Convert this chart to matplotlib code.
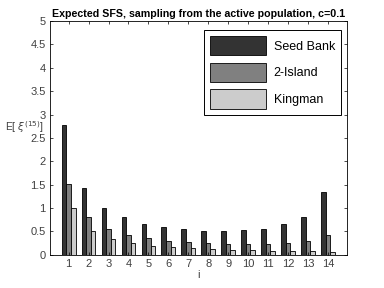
import numpy as np
import matplotlib
matplotlib.use('Agg')
import matplotlib.pyplot as plt

plt.rcParams['font.family'] = ['Liberation Sans', 'DejaVu Sans']

# Data
i_vals = np.arange(1, 15)
seed_bank = [2.78, 1.44, 1.01, 0.80, 0.67, 0.60, 0.56, 0.52, 0.52, 0.54, 0.56, 0.65, 0.82, 1.34]
two_island = [1.51, 0.80, 0.55, 0.43, 0.37, 0.30, 0.28, 0.26, 0.24, 0.24, 0.24, 0.26, 0.30, 0.43]
kingman = [1.0, 0.5, 0.33, 0.25, 0.2, 0.17, 0.14, 0.125, 0.11, 0.1, 0.09, 0.083, 0.077, 0.071]
labels = ['Seed Bank', '2-Island', 'Kingman']
colors = ['#333333', '#808080', '#cccccc']

fig = plt.figure(figsize=(3.84, 2.88), dpi=100)
ax = fig.add_axes([0.13, 0.115, 0.774, 0.812])

w = 0.23
for k, (vals, lab, col) in enumerate(zip([seed_bank, two_island, kingman], labels, colors)):
    ax.bar(i_vals + (k - 1) * w, vals, width=w, color=col, edgecolor='black',
           linewidth=0.6, label=lab)

ax.set_xlim(0.06, 14.97)
ax.set_ylim(0, 5)
ax.set_xticks(i_vals)
ax.set_yticks(np.arange(0, 5.01, 0.5))
ax.set_yticklabels(['0', '0.5', '1', '1.5', '2', '2.5', '3', '3.5', '4', '4.5', '5'])
ax.tick_params(direction='in', top=True, right=True, length=2.5, width=0.5,
               labelsize=8, labelcolor='#404040', pad=3)
for s in ax.spines.values():
    s.set_linewidth(0.6)

ax.set_title('Expected SFS, sampling from the active population, c=0.1',
             fontsize=7.7, fontweight='bold', pad=3)
ax.set_xlabel('i', fontsize=8, color='#404040', labelpad=1)
fig.text(0.013, 0.558, r'E[ $\xi^{(15)}$]', fontsize=7.5, color='#404040', va='center')

leg = ax.legend(loc='upper right', fontsize=9, handlelength=4.5, handleheight=2.0,
                labelspacing=0.58, borderpad=0.5, handletextpad=0.6,
                borderaxespad=0, fancybox=False, edgecolor='black', framealpha=1,
                bbox_to_anchor=(0.98, 0.962))
leg.get_frame().set_linewidth(0.7)

fig.savefig('out.png', dpi=100)
